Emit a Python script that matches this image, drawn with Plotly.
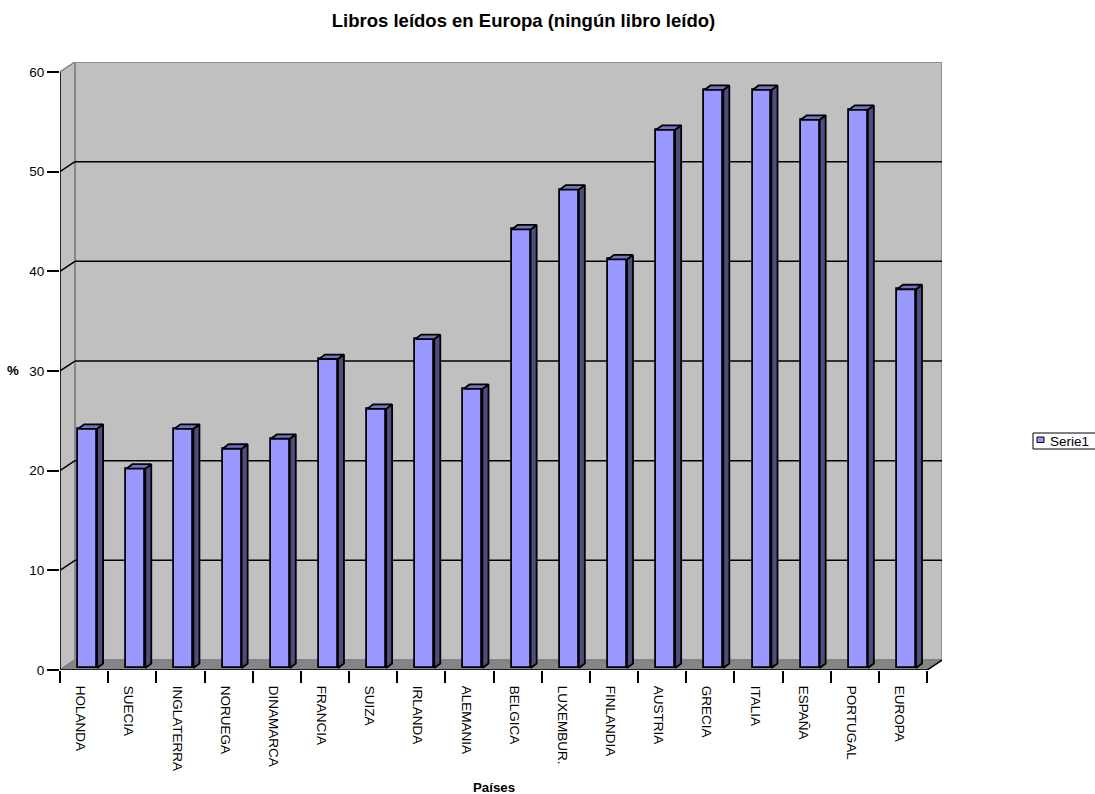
import plotly.graph_objects as go

# ---- data -------------------------------------------------------------
paises = ["HOLANDA", "SUECIA", "INGLATERRA", "NORUEGA", "DINAMARCA", "FRANCIA",
          "SUIZA", "IRLANDA", "ALEMANIA", "BELGICA", "LUXEMBUR.", "FINLANDIA",
          "AUSTRIA", "GRECIA", "ITALIA", "ESPAÑA", "PORTUGAL", "EUROPA"]
ningun_libro = [24, 20, 24, 22, 23, 31, 26, 33, 28, 44, 48, 41, 54, 58, 58, 55, 56, 38]
y_ticks = [0, 10, 20, 30, 40, 50, 60]
serie = "Serie1"

# ---- style / geometry -------------------------------------------------
FONT = "Liberation Sans, Arial, sans-serif"
W, H = 1095, 794
M_L, M_R, M_T, M_B = 60, 153, 62, 124
PLOT_W = W - M_L - M_R
PLOT_H = H - M_T - M_B

DEPTH_X, DEPTH_Y = 0.31, 1.0          # back-wall offset of the 3-D box
Y_MAX = 60
N = len(paises)
X0, X1 = -0.5, N - 0.5

COL_SHIFT, COL_W = 0.073, 0.394       # front face of each column
COL_DX, COL_DY = 0.125, 0.45          # column depth
COL_BASE = 0.2
LABEL_SHIFT = -0.073                  # category labels sit a little left of centre
EDGE_W = 1.8

C_FRONT, C_SIDE, C_TOP = "#9999FF", "#4D4D80", "#7373BF"
C_WALL, C_FLOOR, C_EDGE = "#C0C0C0", "#858585", "#808080"


def px_x(p):
    return (p - M_L) / PLOT_W


def px_y(p):
    return (H - M_B - p) / PLOT_H


fig = go.Figure()

# front faces of the columns
fig.add_trace(go.Bar(
    x=[i + COL_SHIFT for i in range(N)], y=ningun_libro, base=COL_BASE,
    width=COL_W, marker=dict(color=C_FRONT, line=dict(color="black", width=EDGE_W)),
    name=serie, showlegend=False, hoverinfo="skip"))

# side and top faces of the columns
side_x, side_y, top_x, top_y = [], [], [], []
for i, v in enumerate(ningun_libro):
    xl = i + COL_SHIFT - COL_W / 2
    xr = i + COL_SHIFT + COL_W / 2
    t = v + COL_BASE
    side_x += [xr, xr + COL_DX, xr + COL_DX, xr, xr, None]
    side_y += [COL_BASE, COL_BASE + COL_DY, t + COL_DY, t, COL_BASE, None]
    top_x += [xl, xl + COL_DX, xr + COL_DX, xr, xl, None]
    top_y += [t, t + COL_DY, t + COL_DY, t, t, None]

for fx, fy, col in ((side_x, side_y, C_SIDE), (top_x, top_y, C_TOP)):
    fig.add_trace(go.Scatter(
        x=fx, y=fy, mode="lines", fill="toself", fillcolor=col,
        line=dict(color="black", width=EDGE_W), showlegend=False, hoverinfo="skip"))

shapes = []
# back wall, side wall and floor
shapes.append(dict(type="rect", layer="below", x0=X0 + DEPTH_X, x1=X1 + DEPTH_X,
                   y0=DEPTH_Y, y1=Y_MAX + DEPTH_Y, fillcolor=C_WALL,
                   line=dict(color=C_EDGE, width=1.5)))
shapes.append(dict(type="path", layer="below",
                   path=f"M {X0},0 L {X0 + DEPTH_X},{DEPTH_Y} L {X0 + DEPTH_X},{Y_MAX + DEPTH_Y} L {X0},{Y_MAX} Z",
                   fillcolor=C_WALL, line=dict(color=C_EDGE, width=1.5)))
shapes.append(dict(type="path", layer="below",
                   path=f"M {X0},0 L {X1},0 L {X1 + DEPTH_X},{DEPTH_Y} L {X0 + DEPTH_X},{DEPTH_Y} Z",
                   fillcolor=C_FLOOR, line=dict(color=C_EDGE, width=1.5)))
# major gridlines on the walls
for v in y_ticks[1:-1]:
    shapes.append(dict(type="line", layer="below", x0=X0, y0=v, x1=X0 + DEPTH_X, y1=v + DEPTH_Y,
                       line=dict(color="black", width=1.5)))
    shapes.append(dict(type="line", layer="below", x0=X0 + DEPTH_X, y0=v + DEPTH_Y,
                       x1=X1 + DEPTH_X, y1=v + DEPTH_Y, line=dict(color="black", width=1.5)))
# front axis lines and right floor edge
shapes.append(dict(type="line", x0=X0, y0=0, x1=X0, y1=Y_MAX, line=dict(color="black", width=1.5)))
shapes.append(dict(type="line", x0=X0, y0=0, x1=X1, y1=0, line=dict(color="black", width=1.5)))
shapes.append(dict(type="line", x0=X1, y0=0, x1=X1 + DEPTH_X, y1=DEPTH_Y,
                   line=dict(color="black", width=1.5)))

# legend box
shapes.append(dict(type="rect", xref="paper", yref="paper",
                   x0=px_x(1033), x1=px_x(1110), y0=px_y(449), y1=px_y(433),
                   fillcolor="white", line=dict(color="black", width=1)))
shapes.append(dict(type="rect", xref="paper", yref="paper",
                   x0=px_x(1037), x1=px_x(1044), y0=px_y(442.5), y1=px_y(437),
                   fillcolor=C_FRONT, line=dict(color="black", width=1)))

annotations = [
    dict(text="<b>%</b>", xref="paper", yref="y", x=px_x(13), y=30, xanchor="center",
         yanchor="middle", showarrow=False, font=dict(family=FONT, size=13.3, color="black")),
    dict(text="<b>Países</b>", xref="x", yref="paper", x=(X0 + X1) / 2, y=px_y(787),
         xanchor="center", yanchor="middle", showarrow=False,
         font=dict(family=FONT, size=13.3, color="black")),
    dict(text=serie, xref="paper", yref="paper", x=px_x(1048), y=px_y(441),
         xanchor="left", yanchor="middle", showarrow=False,
         font=dict(family=FONT, size=13.5, color="black")),
]

fig.update_layout(
    width=W, height=H, margin=dict(l=M_L, r=M_R, t=M_T, b=M_B, pad=0),
    paper_bgcolor="white", plot_bgcolor="white",
    title=dict(text="<b>Libros leídos en Europa (ningún libro leído)</b>",
               x=523.5 / W, y=1 - 21 / H, xref="container", yref="container",
               xanchor="center", yanchor="middle",
               font=dict(family=FONT, size=18.5, color="black")),
    showlegend=False,
    shapes=shapes, annotations=annotations,
    bargap=0,
    xaxis=dict(range=[X0, X1 + DEPTH_X], tickmode="array",
               tickvals=[i + LABEL_SHIFT for i in range(N)],
               ticktext=paises, tickangle=90, ticks="outside", ticklen=12,
               tickcolor="rgba(0,0,0,0)", showgrid=False, zeroline=False, showline=False,
               tickfont=dict(family=FONT, size=13.5, color="black"),
               minor=dict(tickmode="linear", tick0=X0, dtick=1, ticks="outside",
                          ticklen=12, tickwidth=1.5, tickcolor="black", showgrid=False),
               fixedrange=True),
    yaxis=dict(range=[0, Y_MAX + DEPTH_Y], tickmode="array", tickvals=y_ticks,
               ticks="outside", ticklen=12, tickwidth=1.5, tickcolor="black",
               showgrid=False, zeroline=False, showline=False,
               tickfont=dict(family=FONT, size=13.5, color="black"), fixedrange=True),
)

fig.write_html("out.html")
